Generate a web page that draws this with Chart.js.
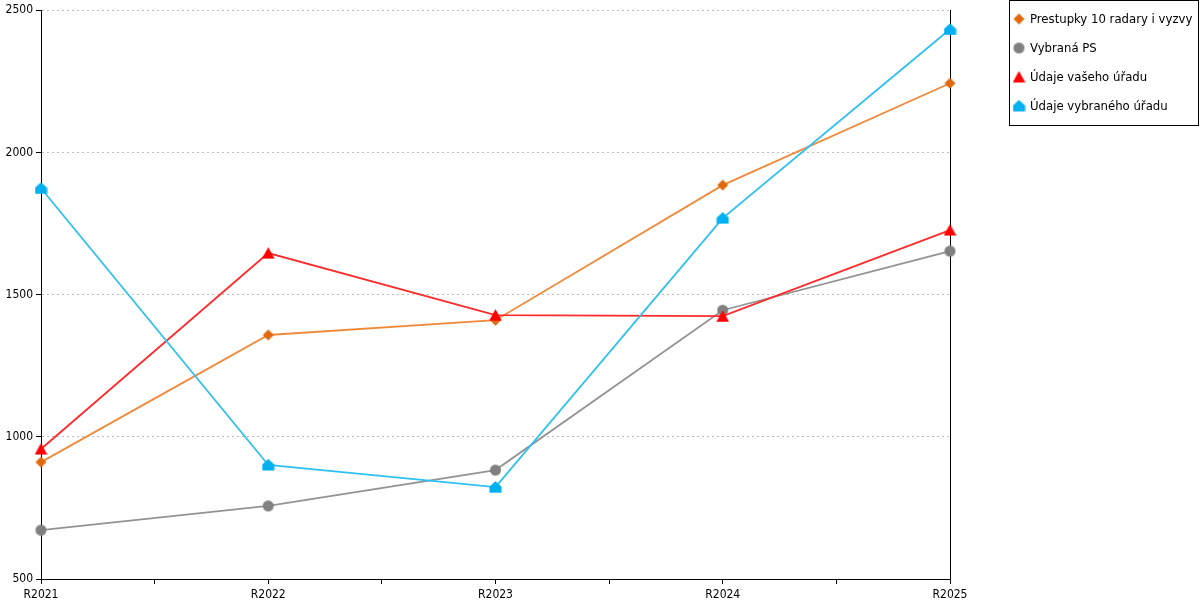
<!DOCTYPE html>
<html>
<head>
<meta charset="utf-8">
<title>Prestupky</title>
<script src="https://cdn.jsdelivr.net/npm/chart.js@4"></script>
<style>
  html, body { margin: 0; padding: 0; background: #fff; }
  #wrap { width: 1200px; height: 600px; }
</style>
</head>
<body>
<div id="wrap"><canvas id="lineChart" width="1200" height="600"></canvas></div>
<script>
// categories and series
let years = ['R2021', 'R2022', 'R2023', 'R2024', 'R2025'];
let seriesNames = ['Prestupky 10 radary i vyzvy', 'Vybraná PS', 'Údaje vašeho úřadu', 'Údaje vybraného úřadu'];
let prestupky = [911, 1358, 1410, 1885, 2243];
let vybranaPS = [672, 757, 883, 1445, 1653];
let vasUrad = [957, 1646, 1428, 1424, 1727];
let vybranyUrad = [1874, 901, 823, 1769, 2433];
let yTicks = [500, 1000, 1500, 2000, 2500];

const FONT = "'DejaVu Sans Condensed', 'DejaVu Sans', sans-serif";

// marker images (same ones used in the legend)
function makeMarker(kind, color) {
    const c = document.createElement('canvas');
    c.width = 13; c.height = 13;
    const g = c.getContext('2d');
    g.fillStyle = color;
    g.beginPath();
    if (kind === 'diamond') {
        g.moveTo(6.5, 1); g.lineTo(12, 6.5); g.lineTo(6.5, 12); g.lineTo(1, 6.5);
    } else if (kind === 'circle') {
        g.arc(6.5, 6.5, 5.5, 0, Math.PI * 2);
    } else if (kind === 'triangle') {
        g.moveTo(6.5, 0.5); g.lineTo(12.8, 12); g.lineTo(0.2, 12);
    } else {
        // little house
        g.moveTo(6.5, 0.5); g.lineTo(12.5, 6); g.lineTo(12.5, 12); g.lineTo(0.5, 12); g.lineTo(0.5, 6);
    }
    g.closePath();
    g.fill();
    return c;
}

const markers = [
    makeMarker('diamond', '#e0690e'),
    makeMarker('circle', '#808080'),
    makeMarker('triangle', '#ff0000'),
    makeMarker('house', '#00b0f0')
];
const lineColors = ['#f08a3a', '#939393', '#ff2a2a', '#2ec0f2'];
const allSeries = [prestupky, vybranaPS, vasUrad, vybranyUrad];

const datasets = allSeries.map((vals, i) => ({
    label: seriesNames[i],
    data: vals.map((v, k) => ({ x: k, y: v })),
    borderColor: lineColors[i],
    backgroundColor: lineColors[i],
    borderWidth: 1.8,
    pointStyle: markers[i],
    pointRadius: 6,
    pointHoverRadius: 6,
    tension: 0,
    clip: false,
    order: allSeries.length - i
}));

// legend box on the right
const boxLegend = {
    id: 'boxLegend',
    afterDraw(chart) {
        const ctx = chart.ctx;
        ctx.save();
        ctx.strokeStyle = '#000';
        ctx.lineWidth = 1;
        ctx.strokeRect(1009.5, 0.5, 189, 125);
        ctx.font = '13px ' + FONT;
        ctx.fillStyle = '#000';
        ctx.textBaseline = 'middle';
        chart.data.datasets.forEach((ds, i) => {
            const y = 19 + i * 29;
            const m = markers[i];
            ctx.drawImage(m, 1019 - m.width / 2, y - m.height / 2);
            ctx.fillText(ds.label, 1030, y + 1);
        });
        ctx.restore();
    }
};

const ctx = document.getElementById('lineChart').getContext('2d');
const lineChart = new Chart(ctx, {
    type: 'line',
    data: { datasets: datasets },
    options: {
        responsive: false,
        animation: false,
        layout: { padding: { top: 10, right: 250, left: 0, bottom: 0 } },
        scales: {
            x: {
                type: 'linear',
                min: 0,
                max: years.length - 1,
                afterFit(scale) { scale.height = 21; },
                afterBuildTicks(scale) {
                    let t = [];
                    for (let v = 0; v <= years.length - 1; v += 0.5) t.push({ value: v });
                    scale.ticks = t;
                },
                ticks: {
                    autoSkip: false,
                    maxRotation: 0,
                    padding: 4,
                    color: '#000',
                    font: { family: FONT, size: 12 },
                    callback: (v) => Number.isInteger(v) ? years[v] : ''
                },
                grid: { drawOnChartArea: false, drawTicks: true, tickLength: 5, tickColor: '#000' },
                border: { color: '#000', width: 1 }
            },
            y: {
                min: yTicks[0],
                max: yTicks[yTicks.length - 1],
                afterFit(scale) { scale.width = 41; },
                afterBuildTicks(scale) { scale.ticks = yTicks.map(v => ({ value: v })); },
                ticks: {
                    padding: 3,
                    color: '#000',
                    font: { family: FONT, size: 12 },
                    callback: (v) => String(v)
                },
                grid: {
                    color: (c) => c.tick && c.tick.value === yTicks[0] ? 'rgba(0,0,0,0)' : '#bdbdbd',
                    tickColor: '#000',
                    tickLength: 5
                },
                border: { color: '#000', width: 1, dash: [2, 3] }
            },
            y2: {
                position: 'right',
                min: yTicks[0],
                max: yTicks[yTicks.length - 1],
                afterFit(scale) { scale.width = 0; },
                ticks: { display: false },
                grid: { display: false },
                border: { color: '#000', width: 1 }
            }
        },
        plugins: {
            legend: { display: false },
            tooltip: { enabled: false }
        }
    },
    plugins: [boxLegend]
});
</script>
</body>
</html>
